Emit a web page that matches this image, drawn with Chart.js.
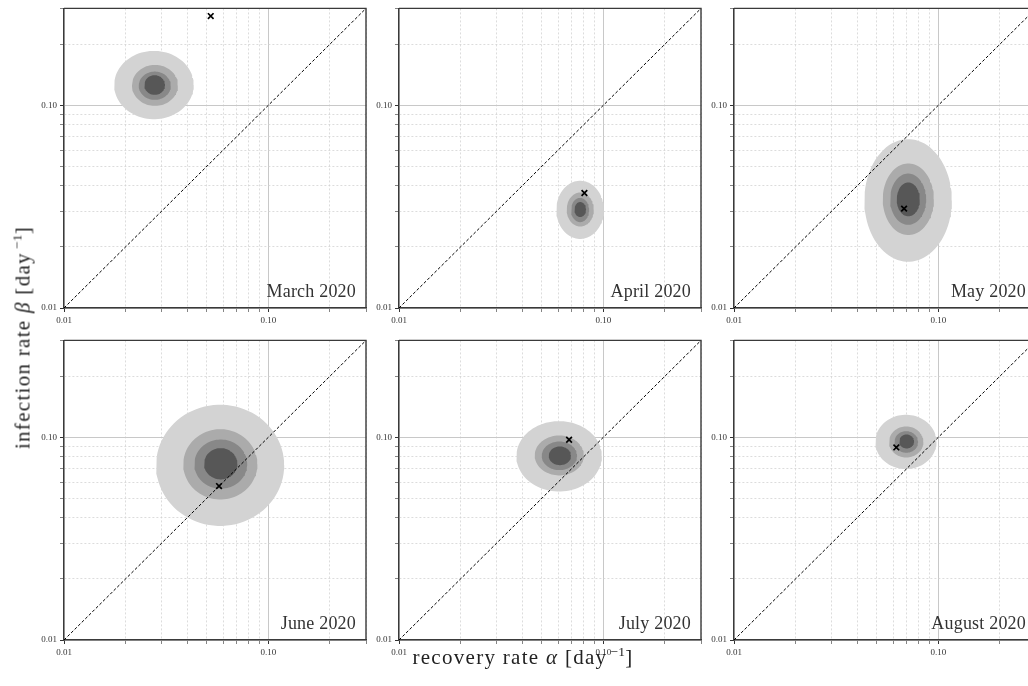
<!DOCTYPE html>
<html>
<head>
<meta charset="utf-8">
<script src="https://cdn.jsdelivr.net/npm/chart.js@4.4.1/dist/chart.umd.min.js"></script>
<style>
  html, body { margin: 0; padding: 0; width: 1028px; height: 686px; overflow: hidden; background: #ffffff; }
  canvas.panel { position: absolute; }
  .month { position: absolute; width: 200px; text-align: right; font-family: 'Liberation Serif', serif; font-size: 18px; line-height: 18px; color: #333; white-space: nowrap; letter-spacing: 0.2px; }
  .axtitle { position: absolute; font-family: 'Liberation Serif', serif; font-size: 21px; line-height: 21px; color: #222; white-space: nowrap; text-align: center; letter-spacing: 1.3px; }
  .axtitle sup { font-size: 0.64em; line-height: 0; vertical-align: 0.6em; letter-spacing: 0.3px; margin-left: 3px; }
</style>
</head>
<body>
<script>
// ---------------- DATA ----------------
const months = ['March 2020', 'April 2020', 'May 2020', 'June 2020', 'July 2020', 'August 2020'];

// point estimate (×) per month
const markerAlpha = [0.0522, 0.0807, 0.0679, 0.0573, 0.0679, 0.0622];
const markerBeta  = [0.275,  0.0369, 0.0309, 0.0574, 0.0971, 0.0890];

// contour extents per month, outer level → inner level:
// [alpha min, alpha max, beta min, beta max]
const contourMarch  = [[0.0176, 0.0431, 0.0853, 0.1852], [0.0215, 0.0361, 0.0992, 0.1580], [0.0232, 0.0333, 0.1062, 0.1464], [0.0247, 0.0312, 0.1124, 0.1406]];
const contourApril  = [[0.0588, 0.1005, 0.0219, 0.0424], [0.0661, 0.0897, 0.0252, 0.0371], [0.0694, 0.0851, 0.0265, 0.0349], [0.0721, 0.0822, 0.0281, 0.0333]];
const contourMay    = [[0.0434, 0.1163, 0.0169, 0.0680], [0.0534, 0.0950, 0.0229, 0.0516], [0.0580, 0.0871, 0.0257, 0.0460], [0.0625, 0.0811, 0.0283, 0.0416]];
const contourJune   = [[0.0282, 0.1194, 0.0365, 0.1445], [0.0383, 0.0883, 0.0493, 0.1095], [0.0434, 0.0787, 0.0557, 0.0974], [0.0484, 0.0705, 0.0619, 0.0883]];
const contourJuly   = [[0.0375, 0.0982, 0.0540, 0.1200], [0.0461, 0.0802, 0.0648, 0.1019], [0.0499, 0.0743, 0.0688, 0.0952], [0.0540, 0.0694, 0.0728, 0.0900]];
const contourAugust = [[0.0491, 0.0978, 0.0696, 0.1290], [0.0573, 0.0844, 0.0794, 0.1129], [0.0609, 0.0795, 0.0838, 0.1071], [0.0642, 0.0760, 0.0880, 0.1031]];

const diagonal = [0.01, 0.3];          // reference line alpha = beta
const axisRange = [0.01, 0.3];         // both axes
const tickValues = [0.01, 0.02, 0.03, 0.04, 0.05, 0.06, 0.07, 0.08, 0.09, 0.1, 0.2, 0.3];
const tickLabels = ['0.01', '0.10'];   // labelled ticks

// ---------------- STYLE / LAYOUT ----------------
const contours = [contourMarch, contourApril, contourMay, contourJune, contourJuly, contourAugust];
const levelColors = ['#d3d3d3', '#ababab', '#888888', '#575757'];
const colLefts = [64, 399, 734];   // plot-area left edges
const rowTops = [8, 340];          // plot-area top edges
const PW = 302, PH = 300, YAX = 40, XAX = 24, PADT = 8, PADR = 6;
const FONT = "'Liberation Serif', 'DejaVu Serif', serif";

function isMajor(v) { const l = Math.log10(v); return Math.abs(l - Math.round(l)) < 1e-6; }

function ellipsePoints(ext) {
  const [a0, a1, b0, b1] = ext;
  const cx = (Math.log10(a0) + Math.log10(a1)) / 2, rx = (Math.log10(a1) - Math.log10(a0)) / 2;
  const cy = (Math.log10(b0) + Math.log10(b1)) / 2, ry = (Math.log10(b1) - Math.log10(b0)) / 2;
  const pts = [];
  const N = 90;
  for (let k = 0; k <= N; k++) {
    const t = 2 * Math.PI * k / N;
    pts.push({ x: Math.pow(10, cx + rx * Math.cos(t)), y: Math.pow(10, cy + ry * Math.sin(t)) });
  }
  return pts;
}

const framePlugin = {
  id: 'frame',
  afterDatasetsDraw(chart) {
    const { ctx, chartArea: a } = chart;
    ctx.save();
    ctx.strokeStyle = '#3a3a3a';
    ctx.lineWidth = 1.4;
    ctx.beginPath();
    ctx.moveTo(a.left, a.top);
    ctx.lineTo(a.right, a.top);
    ctx.lineTo(a.right, a.bottom);
    ctx.stroke();
    ctx.restore();
  }
};

function scaleOpts(axis) {
  return {
    type: 'logarithmic',
    position: axis === 'x' ? 'bottom' : 'left',
    min: axisRange[0],
    max: axisRange[1],
    afterBuildTicks(s) { s.ticks = tickValues.map(v => ({ value: v, major: isMajor(v) })); },
    ticks: {
      autoSkip: false,
      maxRotation: 0,
      minRotation: 0,
      padding: 3,
      color: '#333',
      font: { family: FONT, size: 9 },
      callback: (v) => { const s = Number(v).toFixed(2); return tickLabels.includes(s) ? s : ''; }
    },
    grid: {
      drawTicks: true,
      tickLength: 4,
      tickColor: (c) => (c.tick && isMajor(c.tick.value)) ? '#333' : '#666',
      tickWidth: (c) => (c.tick && isMajor(c.tick.value)) ? 1 : 0.8,
      color: (c) => (c.tick && isMajor(c.tick.value)) ? '#c8c8c8' : '#d4d4d4',
      lineWidth: (c) => (c.tick && isMajor(c.tick.value)) ? 1 : 0.8
    },
    border: {
      display: true,
      color: '#3a3a3a',
      width: 1.4,
      dash: (c) => (c.tick && !isMajor(c.tick.value)) ? [2, 2] : []
    },
    afterFit(s) { if (axis === 'x') s.height = XAX; else s.width = YAX; }
  };
}

for (let i = 0; i < months.length; i++) {
  const col = i % 3, row = Math.floor(i / 3);
  const cv = document.createElement('canvas');
  cv.className = 'panel';
  cv.width = YAX + PW + PADR;
  cv.height = PADT + PH + XAX;
  cv.style.left = (colLefts[col] - YAX) + 'px';
  cv.style.top = (rowTops[row] - PADT) + 'px';
  document.body.appendChild(cv);

  const datasets = [];
  datasets.push({
    label: 'estimate',
    data: [{ x: markerAlpha[i], y: markerBeta[i] }],
    pointStyle: 'crossRot', pointRadius: 4, pointBorderWidth: 1.7,
    borderColor: '#000', backgroundColor: '#000', order: 0
  });
  datasets.push({
    label: 'alpha = beta',
    data: diagonal.map(v => ({ x: v, y: v })),
    showLine: true, borderColor: '#000', borderWidth: 1, borderDash: [3, 2],
    pointRadius: 0, fill: false, order: 1
  });
  contours[i].forEach((ext, lvl) => {
    datasets.push({
      label: 'level ' + lvl,
      data: ellipsePoints(ext),
      showLine: true, borderWidth: 0, pointRadius: 0, tension: 0,
      backgroundColor: levelColors[lvl], fill: 'shape',
      order: 10 - lvl
    });
  });

  new Chart(cv, {
    type: 'scatter',
    data: { datasets },
    options: {
      responsive: false,
      animation: false,
      events: [],
      layout: { padding: { top: PADT, right: PADR, left: 0, bottom: 0 } },
      plugins: { legend: { display: false }, tooltip: { enabled: false }, title: { display: false } },
      scales: { x: scaleOpts('x'), y: scaleOpts('y') }
    },
    plugins: [framePlugin]
  });

  const lab = document.createElement('div');
  lab.className = 'month';
  lab.textContent = months[i];
  const right = colLefts[col] + PW - 10;
  const baseline = rowTops[row] + PH - 11;
  lab.style.left = (right - 200) + 'px';
  lab.style.top = (baseline - 15) + 'px';
  document.body.appendChild(lab);
}

// axis titles
const xt = document.createElement('div');
xt.className = 'axtitle';
xt.innerHTML = 'recovery rate <i>α</i> [day<sup>−1</sup>]';
xt.style.left = (523 - 200) + 'px';
xt.style.width = '400px';
xt.style.top = '647px';
document.body.appendChild(xt);

const yt = document.createElement('div');
yt.className = 'axtitle';
yt.innerHTML = 'infection rate <i>β</i> [day<sup>−1</sup>]';
yt.style.width = '400px';
yt.style.height = '21px';
yt.style.left = (23 - 200) + 'px';
yt.style.top = (337 - 10.5) + 'px';
yt.style.transform = 'rotate(-90deg)';
document.body.appendChild(yt);
</script>
</body>
</html>
